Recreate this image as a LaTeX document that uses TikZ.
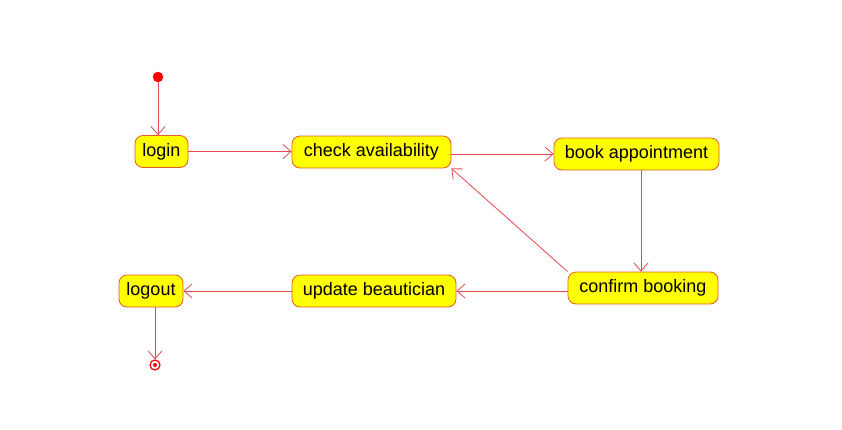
\documentclass[tikz,border=0pt]{standalone}
\usepackage{fontspec}
\setmainfont{Liberation Sans}
\usetikzlibrary{arrows.meta}
\definecolor{edgered}{RGB}{232,70,80}
\definecolor{boxborder}{RGB}{230,90,40}
\definecolor{statefill}{RGB}{255,255,0}
\begin{document}
\begin{tikzpicture}[x=1pt,y=-1pt,
  statebox/.style={draw=boxborder, fill=statefill, rounded corners=8pt, line width=0.8pt,
    minimum height=32pt, inner xsep=0pt, font=\fontsize{18}{21}\selectfont, text=black},
  flow/.style={draw=edgered, line width=0.8pt, -{Straight Barb[length=8pt,width=14pt,line width=0.8pt]}}]
\useasboundingbox (0,0) rectangle (842,429);
\node[circle, fill=red, draw=red, inner sep=0pt, minimum size=10pt] (init) at (158,77) {};
\node[statebox, minimum width=53pt] (login) at (161.5,151.5) {login};
\node[statebox, minimum width=159pt] (check) at (371.5,152) {check availability};
\node[statebox, minimum width=165pt] (book) at (636.5,154) {book appointment};
\node[statebox, minimum width=150pt] (confirm) at (643,288) {confirm booking};
\node[statebox, minimum width=164pt] (update) at (374,291) {update beautician};
\node[statebox, minimum width=64pt] (logout) at (151,291) {logout};
\node[circle, draw=red, line width=1.2pt, inner sep=0pt, minimum size=10pt] (final) at (155,365) {};
\node[circle, fill=red, inner sep=0pt, minimum size=4pt] (finaldot) at (final.center) {};
\draw[flow] (init) -- (init |- login.north);
\draw[flow] (login.east) -- (login.east -| check.west);
\draw[flow] (check.east |- book.west) -- (book.west);
\draw[flow] (book.south -| 641,0) -- (641,0 |- confirm.north);
\draw[flow] (confirm.north west) -- (check.south east);
\draw[flow] (confirm.west |- update.east) -- (update.east);
\draw[flow] (update.west) -- (logout.east);
\draw[flow] (logout.south -| final) -- (final.north);
\end{tikzpicture}
\end{document}
